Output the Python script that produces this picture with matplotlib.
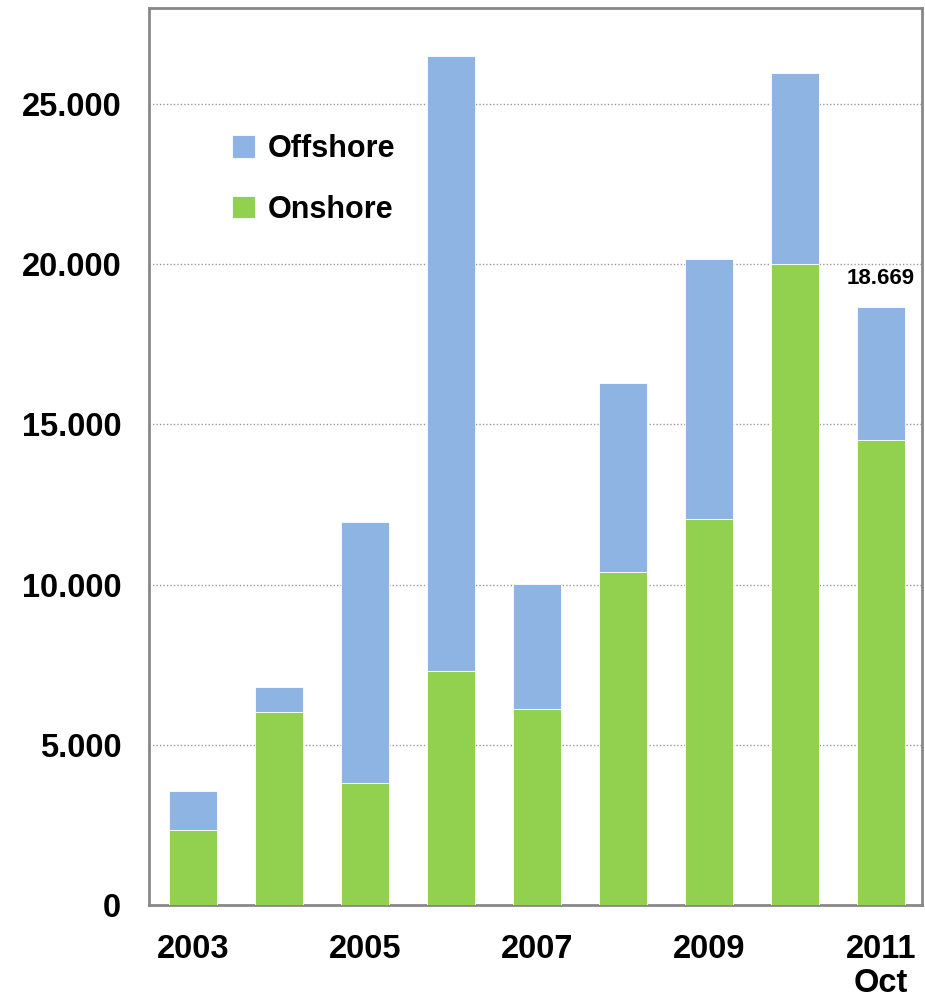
import matplotlib.pyplot as plt
import numpy as np

years = ['2003', '2004', '2005', '2006', '2007', '2008', '2009', '2010', '2011\nOct']
onshore = [2340, 6010, 3800, 7290, 6110, 10380, 12060, 20010, 14520]
offshore = [1210, 790, 8140, 19210, 3900, 5920, 8100, 5960, 4149]
total_label = '18.669'

c_off = '#8EB4E3'
c_on = '#92D050'

plt.rcParams['font.family'] = ['Liberation Sans', 'DejaVu Sans']
plt.rcParams['font.weight'] = 'bold'

fig = plt.figure(figsize=(9.25, 9.97), dpi=100)
ax = fig.add_axes([149 / 925, 1 - 905 / 997, 773 / 925, 897 / 997])

x = np.arange(len(years))
w = 0.56
ax.bar(x, onshore, w, color=c_on, edgecolor='white', linewidth=0.6, label='Onshore', zorder=3)
ax.bar(x, offshore, w, bottom=onshore, color=c_off, edgecolor='white', linewidth=0.6,
       label='Offshore', zorder=3)

ax.set_xlim(-0.51, 8.48)
ax.set_ylim(0, 28000)
ax.set_yticks(range(0, 25001, 5000))
ax.set_yticklabels(['0', '5.000', '10.000', '15.000', '20.000', '25.000'], fontweight='bold')
ax.set_xticks(x[::2])
ax.set_xticklabels([years[i] for i in range(0, len(years), 2)], fontweight='bold')
ax.tick_params(axis='y', length=0, pad=20, labelsize=23.5)
ax.tick_params(axis='x', length=0, pad=21, labelsize=23.5)
for lab in ax.get_xticklabels():
    lab.set_linespacing(1.1)

ax.yaxis.grid(True, linestyle=(0, (1, 1.5)), color='#999999', linewidth=1.0, zorder=0)
for s in ax.spines.values():
    s.set_color('#888888')
    s.set_linewidth(2)

ax.text(x[-1], onshore[-1] + offshore[-1] + 550, total_label, ha='center', va='bottom',
        fontsize=16, fontweight='bold')

h, l = ax.get_legend_handles_labels()
leg = ax.legend(h[::-1], l[::-1], loc='upper left', bbox_to_anchor=(0.072, 0.89), frameon=False,
                fontsize=22, handlelength=0.75, handleheight=0.75, handletextpad=0.4,
                labelspacing=1.0)
for t in leg.get_texts():
    t.set_fontweight('bold')

fig.savefig('out.png', dpi=100)
